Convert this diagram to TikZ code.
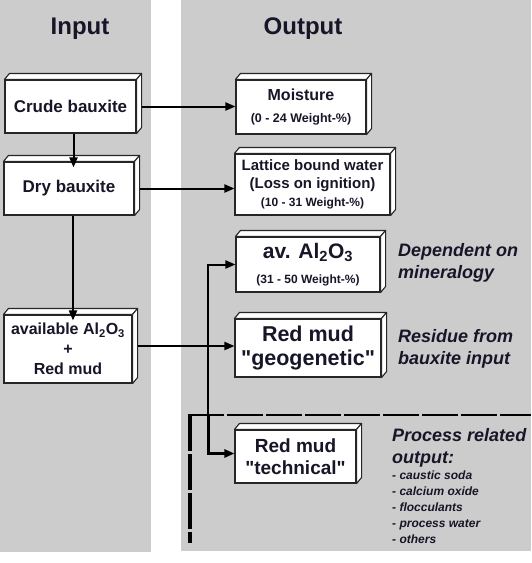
\documentclass[tikz,border=0pt]{standalone}
\usepackage{fontspec}
\setmainfont{Liberation Sans}
\usetikzlibrary{arrows.meta}
\definecolor{panelgray}{RGB}{204,204,204}
\definecolor{inkblue}{RGB}{22,22,40}
\newcommand{\fsz}[2]{\fontsize{#1}{#2}\selectfont}
\newcommand{\alox}{Al\textsubscript{2}O\textsubscript{3}}
\newcommand{\qt}[1]{\textquotedbl#1\textquotedbl}
\tikzset{
  slab/.style={draw=black!85, line width=1.1pt, fill=white, inner sep=0pt, align=center,
    font=\bfseries, text=inkblue},
  flow/.style={-{Triangle[length=10pt,width=8pt]}, line width=2pt},
  note/.style={font=\bfseries\itshape, text=inkblue, align=left, anchor=north west, inner sep=0pt},
  heading/.style={font=\bfseries\fsz{24}{28}, text=inkblue},
  cutline/.style={line width=#1, dash pattern=on 36pt off 3pt}
}
\begin{document}
\begin{tikzpicture}[x=1pt, y=-1pt]
    \useasboundingbox (0,0) rectangle (531,563);
    % Panels
    \fill[panelgray] (0,0) rectangle (151,552);
    \fill[panelgray] (181,0) rectangle (531,551);
    \node[heading] (inhead) at (80,29) {Input};
    \node[heading] (outhead) at (303,29) {Output};

    % Input side
    \node[slab, font=\bfseries\fsz{17}{20}, minimum width=131pt, minimum height=53pt] (crude) at (70.5,106.5) {Crude bauxite};
    \node[slab, font=\bfseries\fsz{17}{20}, minimum width=130pt, minimum height=53pt] (dry) at (69,188.5) {Dry bauxite};
    \node[slab, font=\bfseries\fsz{16}{20}, minimum width=128pt, minimum height=68pt] (avail) at (68,349)
      {available \alox\\+\\Red mud};

    % Output side
    \node[slab, font=\bfseries\fsz{16}{22}, minimum width=130pt, minimum height=54pt] (moist) at (301,107)
      {Moisture\\{\fsz{12.5}{13}(0 - 24 Weight-\%)}};
    \node[slab, font=\bfseries\fsz{15}{18}, minimum width=155pt, minimum height=61pt] (lattice) at (312.5,184.5)
      {Lattice bound water\\(Loss on ignition)\\{\fsz{12}{15}(10 - 31 Weight-\%)}};
    \node[slab, font=\bfseries\fsz{21}{25}, minimum width=144pt, minimum height=55pt] (avAl) at (308,264.5)
      {av. \alox\\{\fsz{12}{14}(31 - 50 Weight-\%)}};
    \node[slab, font=\bfseries\fsz{21.5}{24}, minimum width=146pt, minimum height=58pt] (geo) at (308,348)
      {Red mud\\\qt{geogenetic}};
    \node[slab, font=\bfseries\fsz{19}{22}, minimum width=121pt, minimum height=53pt] (tech) at (295.5,456.5)
      {Red mud\\\qt{technical}};

    % 3D faces
    \foreach \n in {crude,dry,avail,moist,lattice,avAl,geo,tech}{
      \draw[draw=black!85, line width=1.1pt, fill=white, line join=round]
        (\n.north west) -- ++(5,-6) -- ([shift={(5,-6)}]\n.north east) -- (\n.north east) -- cycle;
      \draw[draw=black!85, line width=1.1pt, fill=white, line join=round]
        (\n.north east) -- ++(5,-6) -- ([shift={(5,-6)}]\n.south east) -- (\n.south east) -- cycle;
    }

    % Remarks
    \node[note, font=\bfseries\itshape\fsz{18}{22}] (dep) at (398,243) {Dependent on\\mineralogy};
    \node[note, font=\bfseries\itshape\fsz{18}{22}] (res) at (398,329) {Residue from\\bauxite input};
    \node[note, font=\bfseries\itshape\fsz{18}{22}] (proc) at (392,428) {Process related\\output:};
    \node[note, font=\bfseries\itshape\fsz{12}{16}] (items) at (392,471)
      {- caustic soda\\- calcium oxide\\- flocculants\\- process water\\- others};

    % Process boundary
    \coordinate (cutleft) at (188,415);
    \coordinate (cutright) at (531,415);
    \coordinate (cutbottom) at (190,543);
    \draw[cutline=2pt] (cutleft) -- (cutright);
    \draw[cutline=3.5pt] (cutleft -| cutbottom) -- (cutbottom);

    % Connectors
    \coordinate (bend) at (208,0);
    \draw[flow] ([xshift=5pt]crude.east) -- (crude.east -| moist.west);
    \draw[flow] ([xshift=5pt]dry.east) -- (dry.east -| lattice.west);
    \draw[flow, shorten >=-6pt] ([xshift=3pt]crude.south) -- ([xshift=3pt]crude.south |- dry.north);
    \draw[flow, shorten >=-6pt] ([xshift=4pt]dry.south) -- ([xshift=4pt]dry.south |- avail.north);
    \draw[flow] ([xshift=5pt,yshift=3pt]avail.east) -- ([yshift=3pt]avail.east -| geo.west);
    \draw[flow] (bend |- cutleft) -- (bend |- avAl.west) -- (avAl.west);
    \draw[flow, line width=3pt] (bend |- cutleft) -- ([yshift=3pt]bend |- tech.west) -- ([yshift=3pt]tech.west);
\end{tikzpicture}
\end{document}
